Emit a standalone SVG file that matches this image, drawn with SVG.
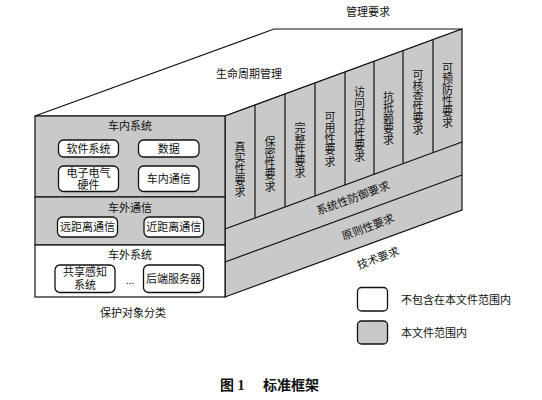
<svg xmlns="http://www.w3.org/2000/svg" width="542" height="400" viewBox="0 0 542 400">
<style>
text{font-family:"Liberation Serif","Noto Sans CJK SC",serif;font-size:11px;fill:#111;}
.c{text-anchor:middle;dominant-baseline:central;}
.face{stroke:#111;stroke-width:1.2;}
.g{fill:#c9c9c9;}
.w{fill:#fff;}
.box{stroke:#111;stroke-width:1.3;}
.ln{stroke:#111;stroke-width:1.2;fill:none;}
.cap{font-size:14px;font-weight:bold;}
</style>
<rect width="542" height="400" fill="#fff"/>

<g id="top-face">
<polygon class="face w" points="35,116 274,29 462,29 225,116"/>
<text class="c" x="249" y="74">生命周期管理</text>
<text class="c" x="368" y="12">管理要求</text>
</g>

<g id="side-face">
<polygon class="face g" points="225,116 462,29 462,210 225,297"/>
</g>

<g id="connectors">
<line class="ln" x1="225" y1="229" x2="462" y2="142"/>
<line class="ln" x1="225" y1="262" x2="462" y2="175"/>
<line class="ln" x1="255" y1="105" x2="255" y2="218"/>
<line class="ln" x1="285" y1="94" x2="285" y2="207"/>
<line class="ln" x1="315" y1="83" x2="315" y2="196"/>
<line class="ln" x1="345" y1="72" x2="345" y2="185"/>
<line class="ln" x1="374" y1="61.3" x2="374" y2="174.3"/>
<line class="ln" x1="403" y1="50.7" x2="403" y2="163.7"/>
<line class="ln" x1="433" y1="39.6" x2="433" y2="152.6"/>
</g>

<g id="col-authenticity"><text class="c"><tspan x="240" y="147">真</tspan><tspan x="240" y="158.2">实</tspan><tspan x="240" y="169.4">性</tspan><tspan x="240" y="180.6">要</tspan><tspan x="240" y="191.8">求</tspan></text></g>
<g id="col-confidentiality"><text class="c"><tspan x="270" y="141.7">保</tspan><tspan x="270" y="152.9">密</tspan><tspan x="270" y="164.1">性</tspan><tspan x="270" y="175.3">要</tspan><tspan x="270" y="186.5">求</tspan></text></g>
<g id="col-integrity"><text class="c"><tspan x="300" y="128.3">完</tspan><tspan x="300" y="139.5">整</tspan><tspan x="300" y="150.7">性</tspan><tspan x="300" y="161.9">要</tspan><tspan x="300" y="173.1">求</tspan></text></g>
<g id="col-availability"><text class="c"><tspan x="330" y="116.7">可</tspan><tspan x="330" y="127.9">用</tspan><tspan x="330" y="139.1">性</tspan><tspan x="330" y="150.3">要</tspan><tspan x="330" y="161.5">求</tspan></text></g>
<g id="col-access"><text class="c"><tspan x="359.5" y="91.7">访</tspan><tspan x="359.5" y="102.6">问</tspan><tspan x="359.5" y="113.5">可</tspan><tspan x="359.5" y="124.4">控</tspan><tspan x="359.5" y="135.3">性</tspan><tspan x="359.5" y="146.2">要</tspan><tspan x="359.5" y="157.1">求</tspan></text></g>
<g id="col-nonrepudiation"><text class="c"><tspan x="388.5" y="96.7">抗</tspan><tspan x="388.5" y="107.6">抵</tspan><tspan x="388.5" y="118.5">赖</tspan><tspan x="388.5" y="129.4">要</tspan><tspan x="388.5" y="140.3">求</tspan></text></g>
<g id="col-audit"><text class="c"><tspan x="418" y="75">可</tspan><tspan x="418" y="86">核</tspan><tspan x="418" y="97">查</tspan><tspan x="418" y="108">性</tspan><tspan x="418" y="119">要</tspan><tspan x="418" y="130">求</tspan></text></g>
<g id="col-prevent"><text class="c"><tspan x="447.5" y="67.7">可</tspan><tspan x="447.5" y="78.7">预</tspan><tspan x="447.5" y="89.7">防</tspan><tspan x="447.5" y="100.7">性</tspan><tspan x="447.5" y="111.7">要</tspan><tspan x="447.5" y="122.7">求</tspan></text></g>

<g id="band-defense"><text class="c" transform="translate(353,198) rotate(-20.1)">系统性防御要求</text></g>
<g id="band-principle"><text class="c" transform="translate(368,227) rotate(-20.1)">原则性要求</text></g>
<g id="label-tech"><text class="c" transform="translate(378,258) rotate(-20.1)">技术要求</text></g>

<g id="in-vehicle">
<rect class="face g" x="35" y="116" width="190" height="81"/>
<text class="c" x="130" y="126">车内系统</text>
</g>
<g id="software"><rect class="box w" x="58.5" y="140" width="60" height="17" rx="5"/><text class="c" x="88.5" y="148.5">软件系统</text></g>
<g id="data"><rect class="box w" x="138.5" y="140" width="60.5" height="17" rx="5"/><text class="c" x="168.7" y="148.5">数据</text></g>
<g id="hardware"><rect class="box w" x="58.5" y="166" width="60" height="25.5" rx="5"/><text class="c" x="88.5" y="172.5">电子电气</text><text class="c" x="88.5" y="184.5">硬件</text></g>
<g id="in-comm"><rect class="box w" x="138.5" y="166" width="60.5" height="25.5" rx="5"/><text class="c" x="168.7" y="179">车内通信</text></g>

<g id="out-comm">
<rect class="face g" x="35" y="197" width="190" height="48"/>
<text class="c" x="130" y="208">车外通信</text>
</g>
<g id="remote"><rect class="box w" x="57.5" y="217" width="60" height="20" rx="5"/><text class="c" x="87.5" y="227">远距离通信</text></g>
<g id="near"><rect class="box w" x="144" y="217" width="59.5" height="20" rx="5"/><text class="c" x="173.7" y="227">近距离通信</text></g>

<g id="out-system">
<rect class="face w" x="35" y="245" width="190" height="52"/>
<text class="c" x="130" y="255">车外系统</text>
<text class="c" x="130" y="280">...</text>
</g>
<g id="shared"><rect class="box w" x="55" y="265" width="60" height="27.5" rx="5"/><text class="c" x="85" y="272">共享感知</text><text class="c" x="85" y="285">系统</text></g>
<g id="backend"><rect class="box w" x="143.5" y="265" width="60" height="27.5" rx="5"/><text class="c" x="173.5" y="279">后端服务器</text></g>

<g id="label-protect"><text class="c" x="133" y="313">保护对象分类</text></g>

<g id="legend-white"><rect class="box w" x="357.5" y="287.5" width="30" height="23.5" rx="4"/><text x="401" y="299.5" dominant-baseline="central">不包含在本文件范围内</text></g>
<g id="legend-gray"><rect class="box g" x="357.5" y="321" width="30" height="23" rx="4"/><text x="401" y="333" dominant-baseline="central">本文件范围内</text></g>

<g id="caption"><text class="cap" x="220" y="385" dominant-baseline="central">图 1</text><text class="cap" x="263" y="385" dominant-baseline="central">标准框架</text></g>
</svg>
